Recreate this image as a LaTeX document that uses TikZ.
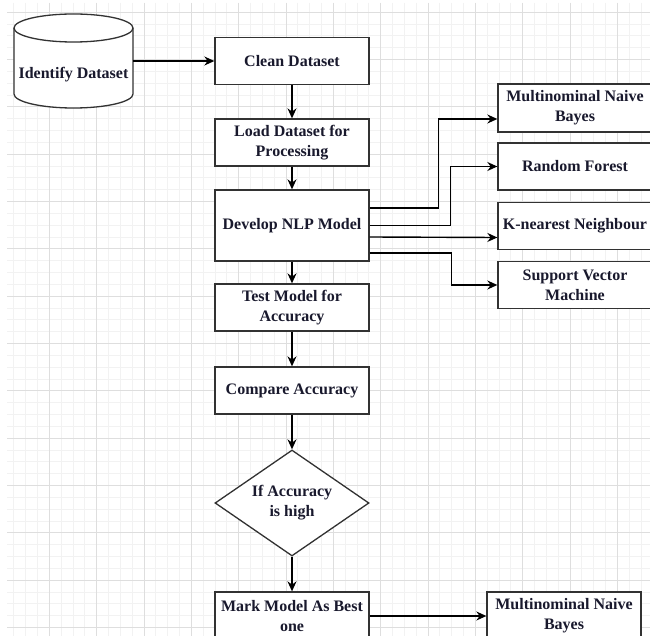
\documentclass[tikz,border=0pt]{standalone}
\usepackage{fontspec}
\setmainfont{Liberation Serif}
\usetikzlibrary{positioning,calc,shapes.geometric,arrows.meta}

\definecolor{txtcol}{RGB}{25,25,45}
\definecolor{boxcol}{RGB}{50,50,50}
\definecolor{gridmin}{RGB}{242,242,242}
\definecolor{gridmaj}{RGB}{222,222,222}

\begin{document}
\begin{tikzpicture}[x=1pt,y=-1pt,font=\fontsize{16}{20}\selectfont\bfseries,text=txtcol,
  boxline/.style={draw=boxcol,line width=1.3pt},
  stepbox/.style={boxline,fill=white,minimum width=154pt,minimum height=47pt,inner sep=0pt,align=center},
  decision/.style={boxline,diamond,fill=white,minimum width=154pt,minimum height=106pt,aspect=1.45,inner sep=0pt,align=center},
  flow/.style={line width=1.4pt,-{Stealth[length=10pt,width=9pt]}},
  gridline/.style={draw=gridmin,line width=0.8pt},
  gridmajor/.style={draw=gridmaj,line width=0.8pt}]
\useasboundingbox (0,0) rectangle (650,636);
\clip (0,0) rectangle (650,636);
\fill[white] (0,0) rectangle (650,636);
\foreach \k in {1,...,54} \draw[gridline] ({2+11.833*\k},3) -- ({2+11.833*\k},636);
\foreach \k in {0,...,52} \draw[gridline] (7,{12.2+11.833*\k}) -- (650,{12.2+11.833*\k});
\foreach \k in {1,...,13} \draw[gridmajor] ({2+47.333*\k},3) -- ({2+47.333*\k},636);
\foreach \k in {0,...,13} \draw[gridmajor] (7,{12.2+47.333*\k}) -- (650,{12.2+47.333*\k});

\node[minimum width=119pt,minimum height=94pt,inner sep=0pt] (iddata) at (73.5,61) {};
\draw[boxline,fill=white] (14,28) -- (14,94) arc[start angle=180,end angle=360,x radius=59.5pt,y radius=14pt] -- (133,28);
\draw[boxline,fill=white] (73.5,28) ellipse[x radius=59.5pt,y radius=14pt];
\node (iddatatext) at (73.5,75) {Identify Dataset};

\node[stepbox] (clean) at (292,61) {Clean Dataset};
\node[stepbox] (load) at (292,142.5) {Load Dataset for\\Processing};
\node[stepbox,minimum height=71pt] (nlp) at (292,225.5) {Develop NLP Model};
\node[stepbox] (test) at (292,307.5) {Test Model for\\Accuracy};
\node[stepbox] (compare) at (292,390.5) {Compare Accuracy};
\node[decision] (check) at (292,503) {If Accuracy\\is high};
\node[stepbox,minimum height=48pt] (mark) at (292,616) {Mark Model As Best\\one};

\node[stepbox,minimum height=48pt] (mnb) at (575,108) {Multinominal Naive\\Bayes};
\node[stepbox] (rf) at (575,166.5) {Random Forest};
\node[stepbox] (knn) at (575,226) {K-nearest Neighbour};
\node[stepbox] (svm) at (575,285) {Support Vector\\Machine};
\node[stepbox,minimum height=48pt] (best) at (564,616) {Multinominal Naive\\Bayes};

\draw[flow] (iddata.east) -- (clean.west);
\draw[flow] (clean) -- (load);
\draw[flow] (load) -- (nlp);
\draw[flow] (nlp) -- (test);
\draw[flow] (test) -- (compare);
\draw[flow] (compare) -- (check);
\draw[flow] (check) -- (mark);
\draw[flow] (mark) -- (best);

\draw[flow] ($(nlp.east)+(0,-17.5)$) -| ($(mnb.west)+(-59,11)$) -- ($(mnb.west)+(0,11)$);
\draw[flow] (nlp.east) -| ($(rf.west)+(-47,0)$) -- (rf.west);
\draw[flow] ($(nlp.east)+(0,11.5)$) -- ($(knn.west)+(0,11.5)$);
\draw[flow] ($(nlp.east)+(0,27.5)$) -| ($(svm.west)+(-46,0)$) -- (svm.west);
\end{tikzpicture}
\end{document}
